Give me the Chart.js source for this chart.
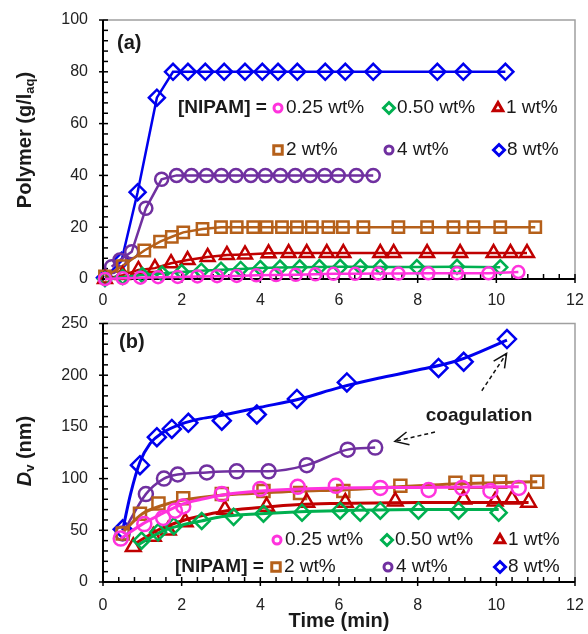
<!DOCTYPE html>
<html>
<head>
<meta charset="utf-8">
<script src="https://cdn.jsdelivr.net/npm/chart.js@4"></script>
<style>
  html, body { margin: 0; padding: 0; background: #fff; }
  #cajaA { position: absolute; left: 0; top: 0; width: 588px; height: 312px; }
  #cajaB { position: absolute; left: 0; top: 312px; width: 588px; height: 322px; }
</style>
</head>
<body>
<div id="cajaA"><canvas id="graficoA" width="588" height="312"></canvas></div>
<div id="cajaB"><canvas id="graficoB" width="588" height="322"></canvas></div>
<script>
const FUENTE = '"Liberation Sans", Arial, sans-serif';

// Colores de cada concentración de NIPAM
const MAGENTA = "#FF33DD";
const VERDE = "#00B050";
const ROJO = "#C00000";
const CAFE = "#B5601A";
const MORADO = "#7030A0";
const AZUL = "#0000EE";

// Ticks de los ejes
const ticksX = [0, 2, 4, 6, 8, 10, 12];
const ticksYA = [0, 20, 40, 60, 80, 100];
const ticksYB = [0, 50, 100, 150, 200, 250];

// ---------- Panel (a): polímero (g/l_aq) vs tiempo (min) ----------
const tA025 = [0.05, 0.5, 0.95, 1.4, 1.9, 2.4, 2.9, 3.4, 3.9, 4.4, 4.9, 5.4, 5.86, 6.41, 7.0, 7.51, 8.27, 9.0, 9.8, 10.56];
const pA025 = [0, 0.3, 0.5, 0.7, 0.8, 1.0, 1.1, 1.2, 1.4, 1.5, 1.6, 1.8, 2.0, 2.0, 2.1, 2.1, 2.2, 2.2, 2.2, 2.7];

const tA050 = [0.05, 0.5, 1.0, 1.5, 2.0, 2.5, 3.0, 3.5, 4.0, 4.5, 5.0, 5.5, 6.03, 6.54, 7.05, 7.98, 9.0, 10.1];
const pA050 = [0, 0.8, 1.5, 2.1, 2.7, 3.2, 3.6, 3.9, 4.2, 4.4, 4.5, 4.6, 4.7, 4.7, 4.6, 4.6, 4.7, 4.5];

const tA1 = [0.05, 0.5, 0.9, 1.32, 1.73, 2.15, 2.66, 3.15, 3.61, 4.21, 4.72, 5.18, 5.69, 6.11, 7.05, 7.39, 8.24, 9.08, 9.93, 10.36, 10.78];
const pA1 = [0, 1.5, 3.5, 4.2, 6.1, 7.3, 8.5, 9.3, 9.5, 9.9, 10, 10, 10, 10, 10, 10, 10, 10, 10, 10, 10];

const tA2 = [0.05, 0.5, 1.05, 1.45, 1.75, 2.04, 2.53, 3.0, 3.4, 3.82, 4.16, 4.55, 4.93, 5.31, 5.73, 6.1, 6.62, 7.51, 8.24, 8.91, 9.42, 10.1, 10.99];
const pA2 = [1, 5, 11, 14.4, 16.3, 18, 19.3, 20, 20, 20, 20, 20, 20, 20, 20, 20, 20, 20, 20, 20, 20, 20, 20];

const tA4 = [0.22, 0.43, 0.73, 1.09, 1.49, 1.87, 2.25, 2.63, 3.01, 3.38, 3.76, 4.13, 4.51, 4.89, 5.27, 5.64, 5.98, 6.44, 6.87];
const pA4 = [4.7, 7.3, 10.5, 27.3, 38.5, 40, 40, 40, 40, 40, 40, 40, 40, 40, 40, 40, 40, 40, 40];

const tA8 = [0.05, 0.47, 0.88, 1.37, 1.78, 2.16, 2.6, 3.08, 3.61, 4.05, 4.45, 4.94, 5.65, 6.16, 6.87, 8.5, 9.16, 10.23];
const pA8 = [0.5, 7, 33.5, 70, 80, 80, 80, 80, 80, 80, 80, 80, 80, 80, 80, 80, 80, 80];

// ---------- Panel (b): Dv (nm) vs tiempo (min) ----------
// puntos medidos
const tB025 = [0.45, 1.05, 1.53, 1.83, 2.04, 3.02, 4.0, 4.95, 5.92, 7.05, 8.28, 9.13, 9.85, 10.57];
const dB025 = [42, 56, 62, 69, 73, 85, 90, 92, 93, 91, 89, 91, 88, 91];

const tB050 = [0.98, 1.4, 1.8, 2.51, 3.32, 4.08, 5.06, 6.03, 6.54, 7.05, 8.02, 9.04, 10.06];
const dB050 = [40, 48, 54, 59, 63, 66, 67, 69, 67, 69, 69, 69, 67];

const tB1 = [0.77, 1.28, 1.66, 2.09, 3.1, 4.16, 5.18, 6.16, 7.43, 9.17, 9.97, 10.4, 10.82];
const dB1 = [34, 44, 50, 58, 70, 73, 77, 77, 78, 80, 78, 80, 77];

const tB2 = [0.5, 0.94, 1.41, 2.04, 3.02, 4.08, 5.01, 6.11, 7.56, 8.96, 9.51, 10.1, 11.04];
const dB2 = [47, 66, 76, 81, 85, 88, 86, 88, 93, 96, 97, 97, 97];

const tB4 = [0.5, 1.09, 1.55, 1.9, 2.64, 3.4, 4.21, 5.18, 6.22, 6.92];
const dB4 = [47, 85, 100, 104, 106, 107, 107, 113, 128, 130];

const tB8 = [0.5, 0.94, 1.37, 1.75, 2.17, 3.02, 3.91, 4.93, 6.2, 8.53, 9.17, 10.27];
const dB8 = [51, 113, 140, 148, 154, 156, 162, 177, 193, 207, 213, 235];

// curvas de tendencia
const tB025c = [0.45, 1.0, 1.5, 2.0, 2.5, 3.0, 4.0, 5.0, 6.0, 8.0, 10.57];
const dB025c = [42, 56, 66, 75, 80, 84, 88, 90, 91, 91.5, 92];

const tB050c = [0.9, 1.5, 2.0, 2.5, 3.0, 4.0, 5.0, 6.0, 8.0, 10.06];
const dB050c = [36, 49, 55, 59, 63, 66, 68, 69, 70, 70];

const tB1c = [0.85, 1.2, 1.5, 2.0, 2.5, 3.0, 4.0, 5.0, 6.0, 8.0, 10.82];
const dB1c = [38, 46, 52, 59, 64, 68, 72, 75, 76, 77, 77];

const tB2c = [0.5, 1.0, 1.5, 2.0, 3.0, 4.0, 5.0, 6.0, 7.0, 8.0, 9.0, 10.0, 11.04];
const dB2c = [48, 66, 74, 79, 84, 86, 88, 89, 91, 93, 95, 96, 97];

const tB8c = [0.5, 0.7, 0.94, 1.2, 1.5, 2.0, 2.5, 3.0, 4.0, 5.0, 6.0, 7.0, 8.0, 9.0, 10.27];
const dB8c = [50, 85, 116, 134, 144, 153, 158, 161, 169, 177, 188, 197, 205, 214, 234];

const puntos = (xs, ys) => xs.map((t, i) => ({ x: t, y: ys[i] }));

// Serie con marcadores huecos
const serie = (xs, ys, color, estilo, radio, conLinea, suave) => ({
  data: puntos(xs, ys),
  showLine: conLinea,
  borderColor: color,
  borderWidth: 2.5,
  tension: 0,
  cubicInterpolationMode: suave ? "monotone" : "default",
  pointStyle: estilo,
  pointRadius: radio,
  pointBorderColor: color,
  pointBorderWidth: 2.5,
  pointBackgroundColor: "rgba(0,0,0,0)",
  clip: false,
});

// Curva sin marcadores
const curva = (xs, ys, color) => ({
  data: puntos(xs, ys),
  showLine: true,
  borderColor: color,
  borderWidth: 3,
  cubicInterpolationMode: "monotone",
  pointRadius: 0,
  clip: false,
});

// Marco gris, ejes negros y marcas mayores / menores
const pluginEjes = {
  id: "ejes",
  beforeDatasetsDraw(chart, args, opts) {
    const { ctx, chartArea: a, scales } = chart;
    const x = scales.x;
    const y = scales.y;
    ctx.save();
    ctx.strokeStyle = "#a0a0a0";
    ctx.lineWidth = 1.5;
    ctx.beginPath();
    ctx.moveTo(a.left, a.top);
    ctx.lineTo(a.right, a.top);
    ctx.lineTo(a.right, a.bottom);
    ctx.stroke();

    ctx.strokeStyle = "#000";
    ctx.lineWidth = 2;
    ctx.beginPath();
    ctx.moveTo(a.left, a.top);
    ctx.lineTo(a.left, a.bottom);
    ctx.lineTo(a.right, a.bottom);
    ctx.stroke();

    ctx.lineWidth = 1.5;
    const esMayor = (v, paso) => Math.abs(v / paso - Math.round(v / paso)) < 1e-6;
    const nX = Math.round((x.max - x.min) / opts.menorX);
    for (let i = 0; i <= nX; i++) {
      const v = x.min + i * opts.menorX;
      const px = x.getPixelForValue(v);
      ctx.beginPath();
      if (esMayor(v, opts.mayorX)) {
        ctx.moveTo(px, a.bottom + 4);
      } else {
        ctx.moveTo(px, a.bottom);
      }
      ctx.lineTo(px, a.bottom - 5);
      ctx.stroke();
    }
    const nY = Math.round((y.max - y.min) / opts.menorY);
    for (let i = 0; i <= nY; i++) {
      const v = y.min + i * opts.menorY;
      const py = y.getPixelForValue(v);
      ctx.beginPath();
      if (esMayor(v, opts.mayorY)) {
        ctx.moveTo(a.left - 4, py);
      } else {
        ctx.moveTo(a.left, py);
      }
      ctx.lineTo(a.left + 5, py);
      ctx.stroke();
    }
    ctx.restore();
  },
};

// Textos: letra del panel, títulos de ejes, leyenda y flechas
const pluginTextos = {
  id: "textos",
  afterDraw(chart, args, opts) {
    const { ctx, scales } = chart;
    ctx.save();
    ctx.fillStyle = "#1a1a1a";
    ctx.textBaseline = "middle";

    // letra del panel
    ctx.font = "bold 20px " + FUENTE;
    ctx.textAlign = "left";
    ctx.fillText(opts.letra.texto, opts.letra.x, opts.letra.y);

    // título del eje Y con subíndice
    ctx.save();
    ctx.translate(opts.tituloY.x, opts.tituloY.y);
    ctx.rotate(-Math.PI / 2);
    const partes = opts.tituloY.partes;
    let total = 0;
    partes.forEach((p) => {
      ctx.font = p.fuente;
      total += ctx.measureText(p.texto).width;
    });
    let cx = -total / 2;
    partes.forEach((p) => {
      ctx.font = p.fuente;
      ctx.fillText(p.texto, cx, p.bajada || 0);
      cx += ctx.measureText(p.texto).width;
    });
    ctx.restore();

    // título del eje X
    if (opts.tituloX) {
      ctx.font = "bold 20px " + FUENTE;
      ctx.textAlign = "center";
      ctx.fillText(opts.tituloX.texto, opts.tituloX.x, opts.tituloX.y);
    }

    // leyenda
    ctx.textAlign = "left";
    ctx.font = "bold 19px " + FUENTE;
    ctx.fillText("[NIPAM] =", opts.nipam.x, opts.nipam.y);
    ctx.font = "19px " + FUENTE;
    opts.leyenda.forEach((item) => {
      ctx.strokeStyle = item.color;
      ctx.fillStyle = "rgba(0,0,0,0)";
      ctx.lineWidth = 3;
      Chart.helpers.drawPoint(ctx, { pointStyle: item.estilo, radius: item.radio, rotation: 0, borderWidth: 3 }, item.x, item.y);
      ctx.fillStyle = "#1a1a1a";
      ctx.fillText(item.texto, item.x + 8, item.y);
    });

    // flechas de coagulación
    if (opts.flechas) {
      const x = scales.x;
      const y = scales.y;
      ctx.strokeStyle = "#111";
      ctx.lineWidth = 1.5;
      opts.flechas.forEach((f) => {
        const x0 = x.getPixelForValue(f.desde[0]);
        const y0 = y.getPixelForValue(f.desde[1]);
        const x1 = x.getPixelForValue(f.hasta[0]);
        const y1 = y.getPixelForValue(f.hasta[1]);
        ctx.setLineDash([4, 3]);
        ctx.beginPath();
        ctx.moveTo(x0, y0);
        ctx.lineTo(x1, y1);
        ctx.stroke();
        ctx.setLineDash([]);
        const ang = Math.atan2(y0 - y1, x0 - x1);
        ctx.beginPath();
        ctx.moveTo(x1 + 15 * Math.cos(ang + 0.45), y1 + 15 * Math.sin(ang + 0.45));
        ctx.lineTo(x1, y1);
        ctx.lineTo(x1 + 15 * Math.cos(ang - 0.45), y1 + 15 * Math.sin(ang - 0.45));
        ctx.stroke();
      });
      ctx.fillStyle = "#1a1a1a";
      ctx.font = "bold 19px " + FUENTE;
      ctx.textAlign = "center";
      ctx.fillText("coagulation", x.getPixelForValue(opts.nota[0]), y.getPixelForValue(opts.nota[1]));
    }
    ctx.restore();
  },
};

// Quita el margen extra que Chart.js reserva para las etiquetas de los extremos
const sinMargen = (eje) => {
  eje.paddingTop = 0;
  eje.paddingBottom = 0;
  eje.paddingLeft = 0;
  eje.paddingRight = 0;
};

// Escalas comunes
const escalaX = (altura, separacion) => ({
  type: "linear",
  min: 0,
  max: 12,
  afterBuildTicks: (eje) => { eje.ticks = ticksX.map((v) => ({ value: v })); },
  afterFit: (eje) => { eje.height = altura; sinMargen(eje); },
  ticks: { color: "#222", font: { family: FUENTE, size: 16 }, padding: separacion, maxRotation: 0, autoSkip: false },
  grid: { display: false, drawTicks: false },
  border: { display: false },
});

const escalaY = (max, lista) => ({
  type: "linear",
  min: 0,
  max: max,
  afterBuildTicks: (eje) => { eje.ticks = lista.map((v) => ({ value: v })); },
  afterFit: (eje) => { eje.width = 103; sinMargen(eje); },
  ticks: { color: "#222", font: { family: FUENTE, size: 16 }, padding: 15, autoSkip: false },
  grid: { display: false, drawTicks: false },
  border: { display: false },
});

const SUB = "bold 13px " + FUENTE;
const TIT = "bold 20px " + FUENTE;

// ---------- Gráfico (a) ----------
new Chart(document.getElementById("graficoA"), {
  type: "scatter",
  data: {
    datasets: [
      serie(tA025, pA025, MAGENTA, "circle", 6, true, false),
      serie(tA050, pA050, VERDE, "rectRot", 7, true, false),
      serie(tA1, pA1, ROJO, "triangle", 8, true, false),
      serie(tA2, pA2, CAFE, "rect", 8, true, false),
      serie(tA4, pA4, MORADO, "circle", 6.5, true, false),
      serie(tA8, pA8, AZUL, "rectRot", 8, true, false),
    ],
  },
  options: {
    responsive: false,
    animation: false,
    layout: { padding: { top: 20, right: 13, left: 0, bottom: 0 } },
    scales: { x: escalaX(33, 12), y: escalaY(100, ticksYA) },
    plugins: {
      legend: { display: false },
      tooltip: { enabled: false },
      ejes: { menorX: 0.4, mayorX: 2, menorY: 4, mayorY: 20 },
      textos: {
        letra: { texto: "(a)", x: 117, y: 43 },
        tituloY: {
          x: 25, y: 140,
          partes: [
            { texto: "Polymer (g/l", fuente: TIT },
            { texto: "aq", fuente: SUB, bajada: 5 },
            { texto: ")", fuente: TIT },
          ],
        },
        nipam: { x: 178, y: 108 },
        leyenda: [
          { x: 278, y: 108, estilo: "circle", radio: 4, color: MAGENTA, texto: "0.25 wt%" },
          { x: 389, y: 108, estilo: "rectRot", radio: 5.5, color: VERDE, texto: "0.50 wt%" },
          { x: 498, y: 108, estilo: "triangle", radio: 5.5, color: ROJO, texto: "1 wt%" },
          { x: 278, y: 150, estilo: "rect", radio: 6, color: CAFE, texto: "2 wt%" },
          { x: 389, y: 150, estilo: "circle", radio: 4, color: MORADO, texto: "4 wt%" },
          { x: 499, y: 150, estilo: "rectRot", radio: 5.5, color: AZUL, texto: "8 wt%" },
        ],
      },
    },
  },
  plugins: [pluginEjes, pluginTextos],
});

// ---------- Gráfico (b) ----------
new Chart(document.getElementById("graficoB"), {
  type: "scatter",
  data: {
    datasets: [
      serie(tB025, dB025, MAGENTA, "circle", 7, false, false),
      curva(tB025c, dB025c, MAGENTA),
      serie(tB050, dB050, VERDE, "rectRot", 8, false, false),
      curva(tB050c, dB050c, VERDE),
      serie(tB1, dB1, ROJO, "triangle", 8.5, false, false),
      curva(tB1c, dB1c, ROJO),
      serie(tB2, dB2, CAFE, "rect", 8.5, false, false),
      curva(tB2c, dB2c, CAFE),
      serie(tB4, dB4, MORADO, "circle", 7, true, true),
      serie(tB8, dB8, AZUL, "rectRot", 9, false, false),
      curva(tB8c, dB8c, AZUL),
    ],
  },
  options: {
    responsive: false,
    animation: false,
    layout: { padding: { top: 8, right: 13, left: 0, bottom: 0 } },
    scales: { x: escalaX(52, 14), y: escalaY(250, ticksYB) },
    plugins: {
      legend: { display: false },
      tooltip: { enabled: false },
      ejes: { menorX: 0.4, mayorX: 2, menorY: 10, mayorY: 50 },
      textos: {
        letra: { texto: "(b)", x: 119, y: 30 },
        tituloY: {
          x: 25, y: 139,
          partes: [
            { texto: "D", fuente: "italic " + TIT },
            { texto: "v", fuente: SUB, bajada: 5 },
            { texto: " (nm)", fuente: TIT },
          ],
        },
        tituloX: { texto: "Time (min)", x: 339, y: 309 },
        nipam: { x: 175, y: 255 },
        leyenda: [
          { x: 277, y: 228, estilo: "circle", radio: 4, color: MAGENTA, texto: "0.25 wt%" },
          { x: 387, y: 228, estilo: "rectRot", radio: 5.5, color: VERDE, texto: "0.50 wt%" },
          { x: 500, y: 228, estilo: "triangle", radio: 5.5, color: ROJO, texto: "1 wt%" },
          { x: 276, y: 255, estilo: "rect", radio: 6, color: CAFE, texto: "2 wt%" },
          { x: 388, y: 255, estilo: "circle", radio: 4, color: MORADO, texto: "4 wt%" },
          { x: 500, y: 255, estilo: "rectRot", radio: 5.5, color: AZUL, texto: "8 wt%" },
        ],
        flechas: [
          { desde: [9.63, 185], hasta: [10.26, 221] },
          { desde: [8.44, 145], hasta: [7.42, 136] },
        ],
        nota: [9.56, 161],
      },
    },
  },
  plugins: [pluginEjes, pluginTextos],
});
</script>
</body>
</html>
